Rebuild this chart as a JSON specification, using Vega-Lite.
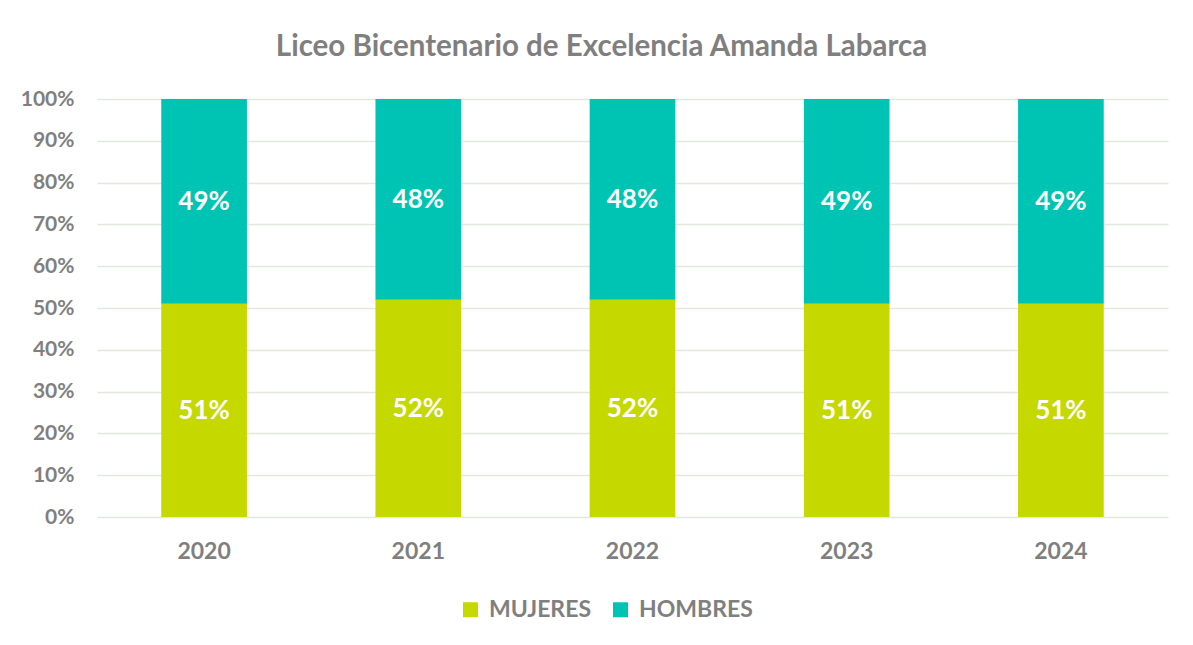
{
  "$schema": "https://vega.github.io/schema/vega-lite/v6.json",
  "autosize": {"type": "none"},
  "width": 1071,
  "height": 418,
  "padding": {"left": 97, "top": 99, "right": 25, "bottom": 128},
  "background": "white",
  "title": {
    "text": "Liceo Bicentenario de Excelencia Amanda Labarca",
    "font": "Lato",
    "fontSize": 29.5,
    "fontWeight": "bold",
    "color": "#7F7F7F",
    "anchor": "middle",
    "dx": -31,
    "offset": 26
  },
  "data": {
    "values": [
      {"anio": "2020", "genero": "MUJERES", "valor": 0.51},
      {"anio": "2020", "genero": "HOMBRES", "valor": 0.49},
      {"anio": "2021", "genero": "MUJERES", "valor": 0.52},
      {"anio": "2021", "genero": "HOMBRES", "valor": 0.48},
      {"anio": "2022", "genero": "MUJERES", "valor": 0.52},
      {"anio": "2022", "genero": "HOMBRES", "valor": 0.48},
      {"anio": "2023", "genero": "MUJERES", "valor": 0.51},
      {"anio": "2023", "genero": "HOMBRES", "valor": 0.49},
      {"anio": "2024", "genero": "MUJERES", "valor": 0.51},
      {"anio": "2024", "genero": "HOMBRES", "valor": 0.49}
    ]
  },
  "encoding": {
    "x": {
      "field": "anio",
      "type": "nominal",
      "title": null,
      "scale": {"paddingInner": 0.6, "paddingOuter": 0.3},
      "axis": {
        "labelAngle": 0,
        "domain": false,
        "ticks": false,
        "labelFont": "Lato",
        "labelFontSize": 23,
        "labelFontWeight": "bold",
        "labelColor": "#7F7F7F",
        "labelPadding": 23
      }
    },
    "order": {"field": "genero", "sort": "descending"}
  },
  "layer": [
    {
      "mark": {"type": "bar"},
      "encoding": {
        "y": {
          "field": "valor",
          "type": "quantitative",
          "stack": "normalize",
          "title": null,
          "scale": {"domain": [0, 1]},
          "axis": {
            "values": [0, 0.1, 0.2, 0.3, 0.4, 0.5, 0.6, 0.7, 0.8, 0.9, 1],
            "format": ".0%",
            "domain": false,
            "ticks": false,
            "gridColor": "#E2E9DC",
            "gridWidth": 1.5,
            "labelFont": "Lato",
            "labelFontSize": 21,
            "labelFontWeight": "bold",
            "labelColor": "#7F7F7F",
            "labelPadding": 23
          }
        },
        "color": {
          "field": "genero",
          "type": "nominal",
          "scale": {"domain": ["MUJERES", "HOMBRES"], "range": ["#C5D800", "#00C4B3"]},
          "legend": {
            "title": null,
            "orient": "none",
            "direction": "horizontal",
            "legendX": 362,
            "legendY": 499,
            "symbolType": "square",
            "symbolSize": 225,
            "symbolStrokeWidth": 0,
            "labelFont": "Lato",
            "labelFontSize": 23,
            "labelFontWeight": "bold",
            "labelColor": "#7F7F7F",
            "labelOffset": 7,
            "columnPadding": 17
          }
        }
      }
    },
    {
      "mark": {"type": "text", "font": "Lato", "fontSize": 26, "fontWeight": "bold", "color": "white", "baseline": "middle", "dy": 1},
      "encoding": {
        "y": {"field": "valor", "type": "quantitative", "stack": "normalize", "bandPosition": 0.5},
        "text": {"field": "valor", "type": "quantitative", "format": ".0%"},
        "detail": {"field": "genero", "type": "nominal"}
      }
    }
  ],
  "config": {"view": {"stroke": null}}
}
